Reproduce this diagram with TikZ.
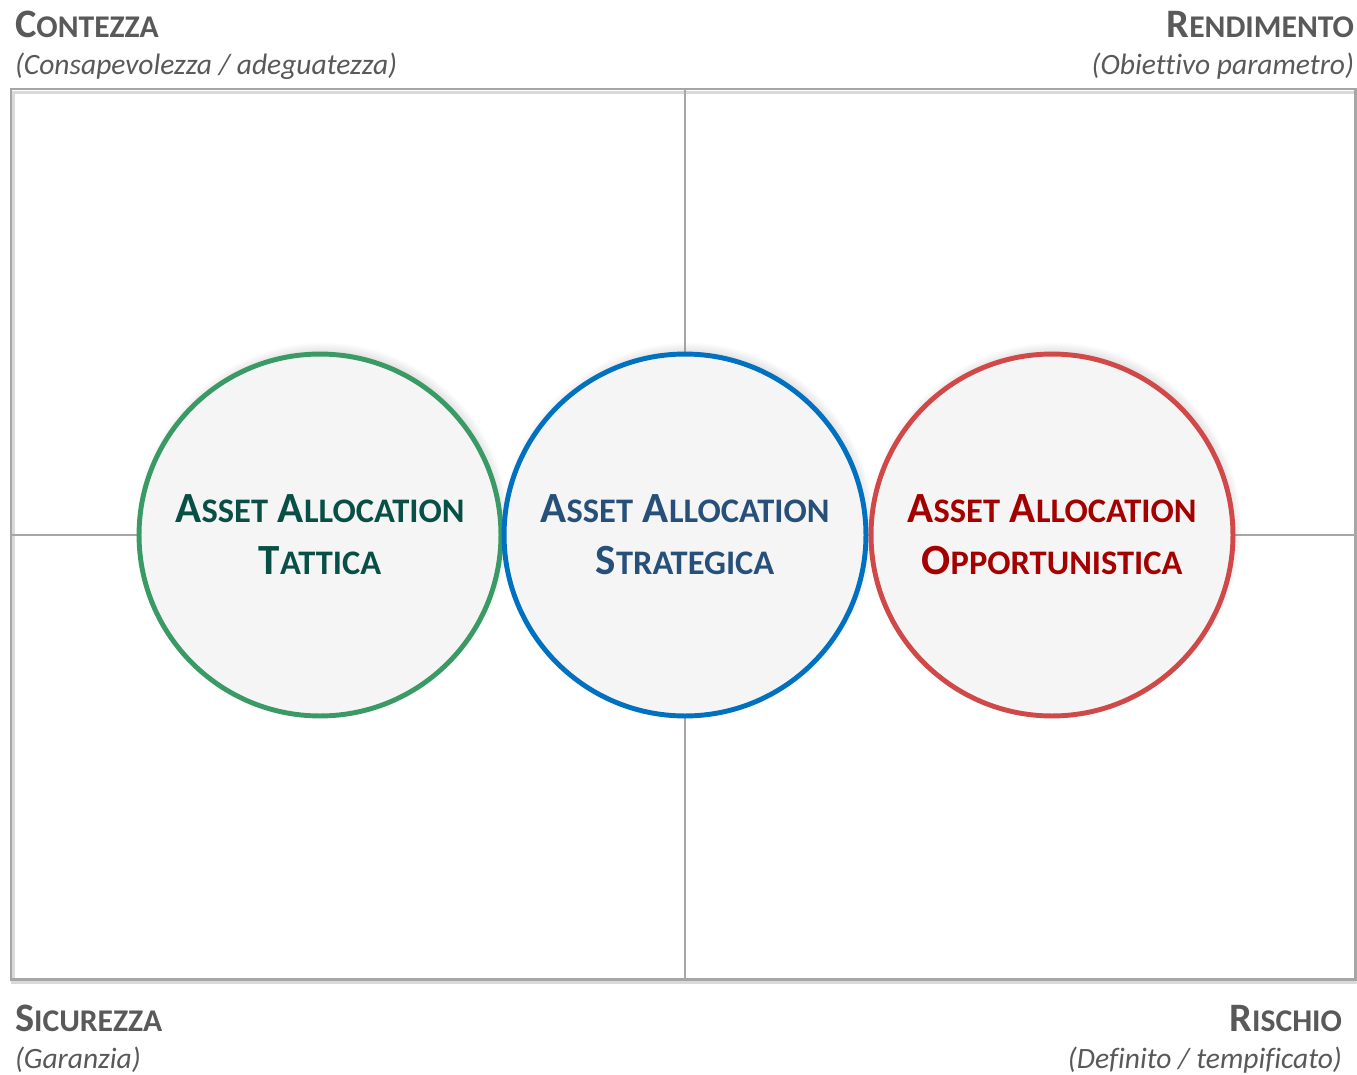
\documentclass[tikz,border=0pt]{standalone}
\usepackage{fontspec}
\setmainfont{Carlito}[Ligatures=NoCommon]
\usetikzlibrary{shadows}
\definecolor{hdrgray}{RGB}{89,89,89}
\definecolor{framegray}{RGB}{166,166,166}
\definecolor{ringgreen}{RGB}{58,154,102}
\definecolor{ringblue}{RGB}{0,112,192}
\definecolor{ringred}{RGB}{208,72,72}
\definecolor{txtgreen}{RGB}{8,80,70}
\definecolor{txtblue}{RGB}{38,80,122}
\definecolor{txtred}{RGB}{165,0,0}
\definecolor{discfill}{RGB}{245,245,245}
\newcommand\hdrsc[2]{{\fontsize{23}{28}\selectfont #1}{\fontsize{18}{28}\selectfont #2}}
\newcommand\discsc[2]{{\fontsize{24.5}{30}\selectfont #1}{\fontsize{19.6}{30}\selectfont #2}}

\begin{document}
\begin{tikzpicture}[x=0.02cm, y=-0.02cm,
  every node/.style={inner sep=0pt, outer sep=0pt},
  hdr/.style={text=hdrgray, font=\bfseries},
  sub/.style={text=hdrgray, font=\fontsize{16.8}{20}\selectfont\itshape},
  frameline/.style={draw=framegray, line width=1.7pt},
  disc/.style={circle, minimum size=7.24cm, fill=discfill, line width=2.8pt,
    align=center, font=\fontsize{25}{29.5}\selectfont\bfseries,
    circular drop shadow={shadow xshift=1.5pt, shadow yshift=3.5pt, shadow scale=1.03, opacity=0.6}}]
\useasboundingbox (0,0) rectangle (1357,1075);

\coordinate (tl) at (11,89);
\coordinate (br) at (1355,979);
\coordinate (top) at (685,89);
\coordinate (bot) at (685,979);
\coordinate (lft) at (11,535);
\coordinate (rgt) at (1355,535);

\draw[draw=black!15, line width=2pt] ([xshift=1pt, yshift=-2pt]tl) rectangle ([xshift=1pt, yshift=-2pt]br);
\draw[frameline] (tl) rectangle (br);
\draw[frameline, line width=1.5pt] (top) -- (bot);
\draw[frameline, line width=1.5pt] (lft) -- (rgt);

\node[hdr, anchor=base west] (contezza) at (15,37) {\hdrsc{C}{ONTEZZA}};
\node[sub, anchor=base west] (contezzasub) at (15,74) {(Consapevolezza / adeguatezza)};
\node[hdr, anchor=base east] (rendimento) at (1354,37) {\hdrsc{R}{ENDIMENTO}};
\node[sub, anchor=base east] (rendimentosub) at (1354,74) {(Obiettivo parametro)};
\node[hdr, anchor=base west] (sicurezza) at (15,1031) {\hdrsc{S}{ICUREZZA}};
\node[sub, anchor=base west] (sicurezzasub) at (15,1068) {(Garanzia)};
\node[hdr, anchor=base east] (rischio) at (1342,1031) {\hdrsc{R}{ISCHIO}};
\node[sub, anchor=base east] (rischiosub) at (1342,1068) {(Definito / tempificato)};

\node[disc, draw=ringgreen, text=txtgreen] (tattica) at (320,535)
  {\discsc{A}{SSET} \discsc{A}{LLOCATION}\\\discsc{T}{ATTICA}};
\node[disc, draw=ringblue, text=txtblue] (strategica) at (685,535)
  {\discsc{A}{SSET} \discsc{A}{LLOCATION}\\\discsc{S}{TRATEGICA}};
\node[disc, draw=ringred, text=txtred] (opportunistica) at (1052,535)
  {\discsc{A}{SSET} \discsc{A}{LLOCATION}\\\discsc{O}{PPORTUNISTICA}};
\end{tikzpicture}
\end{document}
